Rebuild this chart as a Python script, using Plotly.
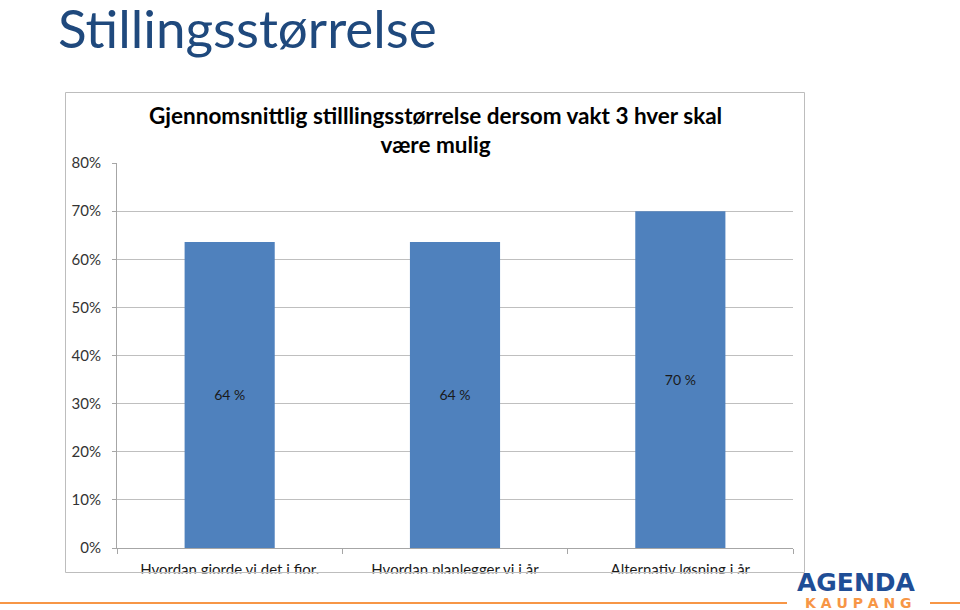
import plotly.graph_objects as go

categories = ["Hvordan gjorde vi det i fjor.", "Hvordan planlegger vi i år", "Alternativ løsning i år"]
values = [0.636, 0.636, 0.70]
labels = [f"{round(v * 100)} %" for v in values]
y_ticks = [0, 0.1, 0.2, 0.3, 0.4, 0.5, 0.6, 0.7, 0.8]

W, H = 960, 610
L, R, T, B = 117, 793, 163, 548

def px(x):
    return (x - L) / (R - L)

def py(y):
    return (B - y) / (B - T)

FONT = "Lato"

fig = go.Figure()
fig.add_trace(go.Bar(
    x=categories, y=values, text=labels,
    marker=dict(color="#4F81BD", line=dict(width=0)),
    textposition="inside", insidetextanchor="middle",
    textfont=dict(family=FONT, size=14, color="#1a1a1a"),
    textangle=0,
))

shapes = [
    dict(type="rect", xref="paper", yref="paper", x0=px(0), x1=px(W), y0=py(573.5), y1=py(H + 5),
         fillcolor="white", line=dict(width=0), layer="above"),
    dict(type="rect", xref="paper", yref="paper", x0=px(65.5), x1=px(804.5), y0=py(572.5), y1=py(92.5),
         fillcolor="rgba(0,0,0,0)", line=dict(color="#BDBDBD", width=1), layer="above"),
    dict(type="line", xref="paper", yref="paper", x0=px(0), x1=px(787), y0=py(603), y1=py(603),
         line=dict(color="#F79646", width=2), layer="above"),
    dict(type="line", xref="paper", yref="paper", x0=px(930), x1=px(W), y0=py(603), y1=py(603),
         line=dict(color="#F79646", width=2), layer="above"),
]

annotations = [
    dict(text="Stillingsstørrelse", xref="paper", yref="paper", x=px(56), y=py(27),
         xanchor="left", yanchor="middle", showarrow=False,
         font=dict(family=FONT, size=53, color="#1F497D")),
    dict(text="<b>Gjennomsnittlig stilllingsstørrelse dersom vakt 3 hver skal<br>være mulig</b>",
         xref="paper", yref="paper", x=px(435), y=py(130), xanchor="center", yanchor="middle",
         showarrow=False, align="center",
         font=dict(family=FONT, size=22.5, color="#000000")),
    dict(text="<b>AGENDA</b>", xref="paper", yref="paper", x=px(856), y=py(582),
         xanchor="center", yanchor="middle", showarrow=False,
         font=dict(family="DejaVu Sans", size=25, color="#1F4E96")),
    dict(text="<b>K A U P A N G</b>", xref="paper", yref="paper", x=px(858), y=py(603),
         xanchor="center", yanchor="middle", showarrow=False,
         font=dict(family="DejaVu Sans", size=14, color="#F79646")),
]

fig.update_layout(
    width=W, height=H,
    margin=dict(l=L, r=W - R, t=T, b=H - B),
    paper_bgcolor="white", plot_bgcolor="white",
    showlegend=False,
    bargap=0.6,
    shapes=shapes,
    annotations=annotations,
    font=dict(family=FONT, size=14, color="#333333"),
)
fig.update_yaxes(
    range=[0, 0.8], tickvals=y_ticks, tickformat=".0%",
    showgrid=True, gridcolor="#BFBFBF", gridwidth=1,
    showline=True, linecolor="#A6A6A6", linewidth=1,
    ticks="outside", ticklen=4, tickcolor="#A6A6A6",
    ticklabelstandoff=8, zeroline=False,
    tickfont=dict(family=FONT, size=15, color="#333333"),
)
fig.update_xaxes(
    showline=True, linecolor="#A6A6A6", linewidth=1,
    ticks="outside", ticklen=5, tickcolor="#A6A6A6", tickson="boundaries",
    ticklabelstandoff=8,
    tickfont=dict(family=FONT, size=15, color="#1a1a1a"),
)

fig.write_html("out.html")
